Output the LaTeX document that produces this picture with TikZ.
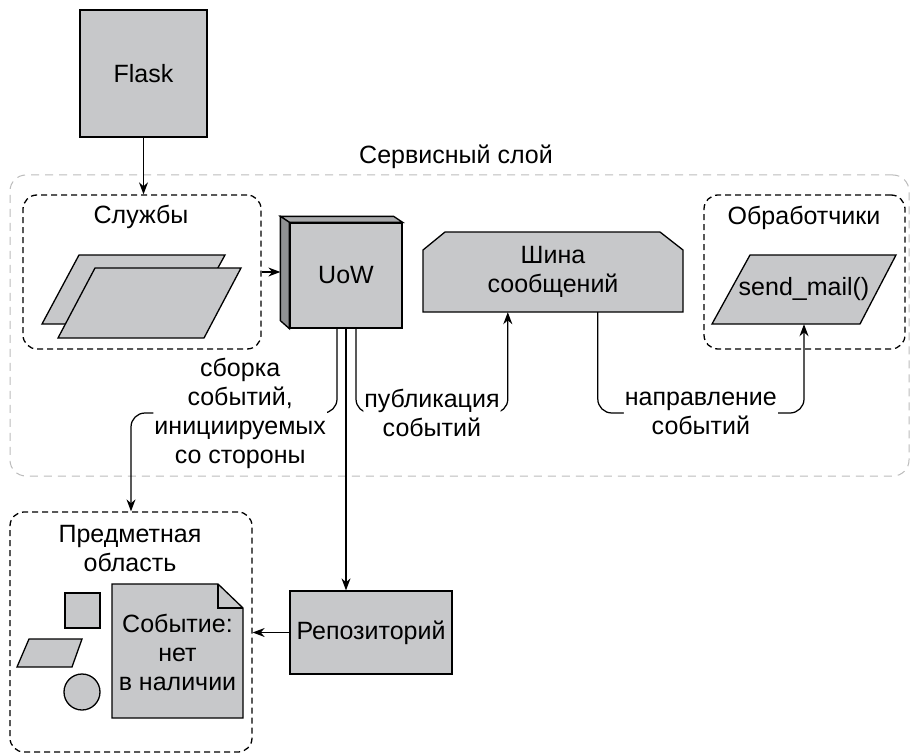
\documentclass[tikz,border=0pt]{standalone}
\usepackage{fontspec}
\setmainfont{Liberation Sans}
\usetikzlibrary{calc,arrows.meta,positioning}
\definecolor{boxgray}{HTML}{C7C8CA}
\definecolor{topgray}{HTML}{A9AAAC}
\definecolor{sidegray}{HTML}{909193}
\definecolor{layergray}{HTML}{BBBBBB}

\begin{document}
\begin{tikzpicture}[x=1pt, y=-1pt, font=\fontsize{25}{29}\selectfont,
  box/.style={draw, line width=1.3pt, fill=boxgray, align=center},
  shp/.style={draw, line width=1.3pt, fill=boxgray},
  grp/.style={draw, line width=1.3pt, rounded corners=14pt, dash pattern=on 6pt off 4pt},
  layer/.style={draw=layergray, line width=1pt, rounded corners=16pt, dash pattern=on 8pt off 6pt},
  lbl/.style={fill=white, inner sep=1pt, align=center},
  arr/.style={-{Stealth[length=12pt, width=9pt]}, line width=1.25pt},
  conn/.style={rounded corners=14pt}
]
  \useasboundingbox (0,0) rectangle (912,754);

  % Service layer
  \node[layer, minimum width=899, minimum height=301] (svclayer) at (459.5,325.5) {};
  \node (svclbl) at (456,157) {Сервисный слой};
  \coordinate (busrow) at (0,413);

  \node[box, minimum width=127, minimum height=127] (flask) at (143.5,73.5) {Flask};

  % Services
  \node[grp, minimum width=238, minimum height=154] (svcs) at (142,272) {};
  \node (svcslbl) at (141,217) {Службы};
  \draw[shp] (79,255) -- (225,255) -- (187,324) -- (42,324) -- cycle;
  \draw[shp] (95,268) -- (241,268) -- (204,338) -- (58,338) -- cycle;
  \draw[arr] (flask.south) -- (flask.south |- svcs.north);

  % Unit of work
  \node[box, minimum width=112, minimum height=105] (uow) at (346,275.5) {UoW};
  \draw[shp, fill=topgray] (uow.north west) -- ++(-9,-6) -- ($(uow.north east)+(-9,-6)$) -- (uow.north east) -- cycle;
  \draw[shp, fill=sidegray] (uow.north west) -- ++(-9,-6) -- ($(uow.south west)+(-9,-8)$) -- (uow.south west) -- cycle;
  \coordinate (uowside) at ($(uow.west)+(-9,0)$);
  \draw[arr] (svcs.east) -- (svcs.east -| uowside);

  % Message bus
  \draw[shp] (423,312) -- (423,250) -- (445,232) -- (660,232) -- (683,250) -- (683,312) -- cycle;
  \node[minimum width=260, minimum height=80, align=center] (bus) at (553,272) {Шина\\сообщений};
  \coordinate (busin) at ($(bus.south west)+(85,0)$);
  \coordinate (busout) at ($(bus.south west)+(175,0)$);

  % Handlers
  \node[grp, minimum width=201, minimum height=154] (hdl) at (804.5,272) {};
  \node (hdllbl) at (804,218) {Обработчики};
  \draw[shp] (750,255) -- (896,255) -- (860,324) -- (712,324) -- cycle;
  \node[minimum width=110, minimum height=69] (mail) at (804,289.5) {send\_mail()};

  % Domain
  \node[grp, minimum width=242, minimum height=240] (dom) at (131,632) {};
  \node[align=center] (domlbl) at (130,549) {Предметная\\область};
  \draw[shp] (65,593) rectangle (100,628);
  \draw[shp] (29,639) -- (82,639) -- (72,667) -- (17,667) -- cycle;
  \draw[shp] (82,692) circle (18pt);
  \draw[shp] (112,584) -- (218,584) -- (243,608) -- (243,718) -- (112,718) -- cycle;
  \draw[line width=1.3pt] (218,584) -- (218,608) -- (243,608);
  \node[align=center] (evt) at (177.5,652) {Событие:\\нет\\в наличии};

  \node[box, minimum width=162, minimum height=83] (repo) at (371,632.5) {Репозиторий};

  % Connectors from UoW
  \coordinate (uowl) at ($(uow.south)+(-9,0)$);
  \coordinate (uowr) at ($(uow.south)+(10,0)$);
  \draw[arr, conn] (uowl) -- (uowl |- busrow) --
    node[lbl, pos=0.47] {сборка\\событий,\\инициируемых\\со стороны} (dom.north |- busrow) -- (dom.north);
  \draw[arr] (uow.south) -- (uow.south |- repo.north);
  \draw[arr, conn] (uowr) -- (uowr |- busrow) --
    node[lbl, pos=0.5] {публикация\\событий} (busin |- busrow) -- (busin);
  \draw[arr, conn] (busout) -- (busout |- busrow) --
    node[lbl, pos=0.5] {направление\\событий} (mail.south |- busrow) -- (mail.south);
  \draw[arr] (repo.west) -- (repo.west -| dom.east);
\end{tikzpicture}
\end{document}
